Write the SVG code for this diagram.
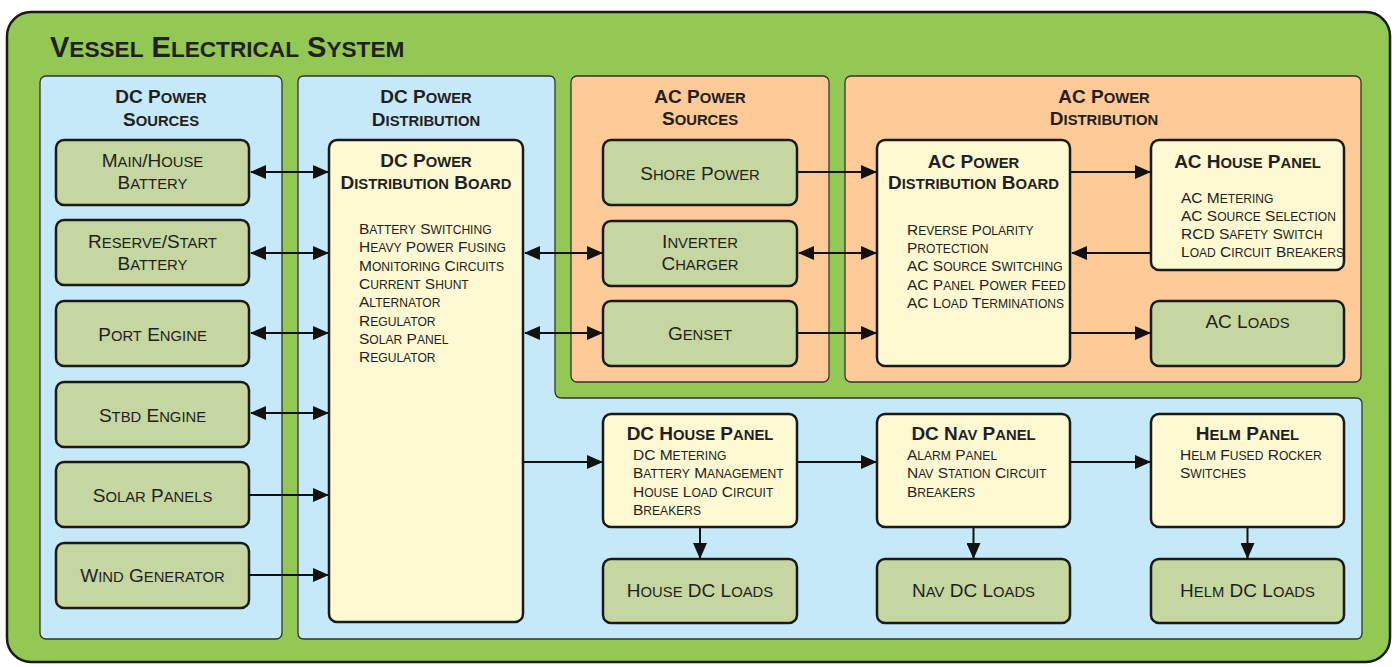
<svg xmlns="http://www.w3.org/2000/svg" width="1397" height="667" viewBox="0 0 1397 667">
<style>
.t{font-family:"Liberation Sans",Arial,sans-serif;fill:#231f20}
.ttl{font-size:29px;font-weight:bold}
.h{font-size:19px;font-weight:bold;text-anchor:middle}
.nt{font-size:19px;font-weight:bold;text-anchor:middle}
.n{font-size:19px;text-anchor:middle}
.l{font-size:15.5px}
.s{font-size:78%}
.pb{fill:#c5e9f9;stroke:#333;stroke-width:1.3}
.po{fill:#fdca98;stroke:#333;stroke-width:1.3}
.g{fill:#c5d6a0;stroke:#1a1a1a;stroke-width:2.5}
.y{fill:#fdf9d3;stroke:#1a1a1a;stroke-width:2.5}
.c line{stroke:#111;stroke-width:2}
</style>
<defs>
<marker id="ah" markerUnits="userSpaceOnUse" markerWidth="16" markerHeight="14" refX="15" refY="7" orient="auto-start-reverse">
<path d="M0,0 L16,7 L0,14 Z" fill="#111"/>
</marker>
</defs>
<rect x="7" y="12" width="1383" height="650" rx="24" fill="#92c853" stroke="#1a1a1a" stroke-width="2.5"/>
<text class="t ttl" x="50" y="57">V<tspan class="s">ESSEL</tspan> E<tspan class="s">LECTRICAL</tspan> S<tspan class="s">YSTEM</tspan></text>

<g id="panel-dc-sources">
<rect class="pb" x="40" y="76" width="242" height="563" rx="6"/>
<text class="t h" x="161" y="103">DC P<tspan class="s">OWER</tspan></text>
<text class="t h" x="161" y="126">S<tspan class="s">OURCES</tspan></text>
</g>
<g id="panel-dc-distribution">
<path class="pb" d="M304,76 H549 Q555,76 555,82 V391 Q555,398 562,398 H1356 Q1362,398 1362,404 V633 Q1362,639 1356,639 H304 Q298,639 298,633 V82 Q298,76 304,76 Z"/>
<text class="t h" x="426" y="103">DC P<tspan class="s">OWER</tspan></text>
<text class="t h" x="426" y="126">D<tspan class="s">ISTRIBUTION</tspan></text>
</g>
<g id="panel-ac-sources">
<rect class="po" x="571" y="76" width="258" height="306" rx="6"/>
<text class="t h" x="700" y="103">AC P<tspan class="s">OWER</tspan></text>
<text class="t h" x="700" y="125">S<tspan class="s">OURCES</tspan></text>
</g>
<g id="panel-ac-distribution">
<rect class="po" x="845" y="76" width="516" height="306" rx="6"/>
<text class="t h" x="1104" y="103">AC P<tspan class="s">OWER</tspan></text>
<text class="t h" x="1104" y="125">D<tspan class="s">ISTRIBUTION</tspan></text>
</g>

<g id="main-house-battery">
<rect class="g" x="56" y="140" width="193" height="65" rx="8"/>
<text class="t n" x="152.5" y="167">M<tspan class="s">AIN</tspan>/H<tspan class="s">OUSE</tspan></text>
<text class="t n" x="152.5" y="189">B<tspan class="s">ATTERY</tspan></text>
</g>
<g id="reserve-start-battery">
<rect class="g" x="56" y="220" width="193" height="65" rx="8"/>
<text class="t n" x="152.5" y="248">R<tspan class="s">ESERVE</tspan>/S<tspan class="s">TART</tspan></text>
<text class="t n" x="152.5" y="270">B<tspan class="s">ATTERY</tspan></text>
</g>
<g id="port-engine">
<rect class="g" x="56" y="301" width="193" height="65" rx="8"/>
<text class="t n" x="152.5" y="341">P<tspan class="s">ORT</tspan> E<tspan class="s">NGINE</tspan></text>
</g>
<g id="stbd-engine">
<rect class="g" x="56" y="382" width="193" height="65" rx="8"/>
<text class="t n" x="152.5" y="422">S<tspan class="s">TBD</tspan> E<tspan class="s">NGINE</tspan></text>
</g>
<g id="solar-panels">
<rect class="g" x="56" y="462" width="193" height="65" rx="8"/>
<text class="t n" x="152.5" y="502">S<tspan class="s">OLAR</tspan> P<tspan class="s">ANELS</tspan></text>
</g>
<g id="wind-generator">
<rect class="g" x="56" y="543" width="193" height="65" rx="8"/>
<text class="t n" x="152.5" y="582">W<tspan class="s">IND</tspan> G<tspan class="s">ENERATOR</tspan></text>
</g>

<g id="dc-distribution-board">
<rect class="y" x="329" y="140" width="194" height="482" rx="8"/>
<text class="t nt" x="426" y="167">DC P<tspan class="s">OWER</tspan></text>
<text class="t nt" x="426" y="189">D<tspan class="s">ISTRIBUTION</tspan> B<tspan class="s">OARD</tspan></text>
<text class="t l" x="359" y="234">B<tspan class="s">ATTERY</tspan> S<tspan class="s">WITCHING</tspan></text>
<text class="t l" x="359" y="252.3">H<tspan class="s">EAVY</tspan> P<tspan class="s">OWER</tspan> F<tspan class="s">USING</tspan></text>
<text class="t l" x="359" y="270.6">M<tspan class="s">ONITORING</tspan> C<tspan class="s">IRCUITS</tspan></text>
<text class="t l" x="359" y="289">C<tspan class="s">URRENT</tspan> S<tspan class="s">HUNT</tspan></text>
<text class="t l" x="359" y="307.3">A<tspan class="s">LTERNATOR</tspan></text>
<text class="t l" x="359" y="325.6">R<tspan class="s">EGULATOR</tspan></text>
<text class="t l" x="359" y="344">S<tspan class="s">OLAR</tspan> P<tspan class="s">ANEL</tspan></text>
<text class="t l" x="359" y="362.3">R<tspan class="s">EGULATOR</tspan></text>
</g>

<g id="shore-power">
<rect class="g" x="603" y="140" width="194" height="65" rx="8"/>
<text class="t n" x="700" y="180">S<tspan class="s">HORE</tspan> P<tspan class="s">OWER</tspan></text>
</g>
<g id="inverter-charger">
<rect class="g" x="603" y="221" width="194" height="65" rx="8"/>
<text class="t n" x="700" y="248">I<tspan class="s">NVERTER</tspan></text>
<text class="t n" x="700" y="270">C<tspan class="s">HARGER</tspan></text>
</g>
<g id="genset">
<rect class="g" x="603" y="301" width="194" height="65" rx="8"/>
<text class="t n" x="700" y="340">G<tspan class="s">ENSET</tspan></text>
</g>

<g id="ac-distribution-board">
<rect class="y" x="877" y="140" width="193" height="226" rx="8"/>
<text class="t nt" x="973.5" y="168">AC P<tspan class="s">OWER</tspan></text>
<text class="t nt" x="973.5" y="189">D<tspan class="s">ISTRIBUTION</tspan> B<tspan class="s">OARD</tspan></text>
<text class="t l" x="907" y="235">R<tspan class="s">EVERSE</tspan> P<tspan class="s">OLARITY</tspan></text>
<text class="t l" x="907" y="253.2">P<tspan class="s">ROTECTION</tspan></text>
<text class="t l" x="907" y="271.4">AC S<tspan class="s">OURCE</tspan> S<tspan class="s">WITCHING</tspan></text>
<text class="t l" x="907" y="289.6">AC P<tspan class="s">ANEL</tspan> P<tspan class="s">OWER</tspan> F<tspan class="s">EED</tspan></text>
<text class="t l" x="907" y="307.8">AC L<tspan class="s">OAD</tspan> T<tspan class="s">ERMINATIONS</tspan></text>
</g>
<g id="ac-house-panel">
<rect class="y" x="1151" y="140" width="193" height="130" rx="8"/>
<text class="t nt" x="1247.5" y="168">AC H<tspan class="s">OUSE</tspan> P<tspan class="s">ANEL</tspan></text>
<text class="t l" x="1181" y="203">AC M<tspan class="s">ETERING</tspan></text>
<text class="t l" x="1181" y="221">AC S<tspan class="s">OURCE</tspan> S<tspan class="s">ELECTION</tspan></text>
<text class="t l" x="1181" y="239">RCD S<tspan class="s">AFETY</tspan> S<tspan class="s">WITCH</tspan></text>
<text class="t l" x="1181" y="257">L<tspan class="s">OAD</tspan> C<tspan class="s">IRCUIT</tspan> B<tspan class="s">REAKERS</tspan></text>
</g>
<g id="ac-loads">
<rect class="g" x="1151" y="301" width="193" height="65" rx="8"/>
<text class="t n" x="1247.5" y="328">AC L<tspan class="s">OADS</tspan></text>
</g>

<g id="dc-house-panel">
<rect class="y" x="603" y="414" width="194" height="113" rx="8"/>
<text class="t nt" x="700" y="440">DC H<tspan class="s">OUSE</tspan> P<tspan class="s">ANEL</tspan></text>
<text class="t l" x="633" y="460">DC M<tspan class="s">ETERING</tspan></text>
<text class="t l" x="633" y="478.3">B<tspan class="s">ATTERY</tspan> M<tspan class="s">ANAGEMENT</tspan></text>
<text class="t l" x="633" y="496.6">H<tspan class="s">OUSE</tspan> L<tspan class="s">OAD</tspan> C<tspan class="s">IRCUIT</tspan></text>
<text class="t l" x="633" y="515">B<tspan class="s">REAKERS</tspan></text>
</g>
<g id="dc-nav-panel">
<rect class="y" x="877" y="414" width="193" height="113" rx="8"/>
<text class="t nt" x="973.5" y="440">DC N<tspan class="s">AV</tspan> P<tspan class="s">ANEL</tspan></text>
<text class="t l" x="907" y="460">A<tspan class="s">LARM</tspan> P<tspan class="s">ANEL</tspan></text>
<text class="t l" x="907" y="478.3">N<tspan class="s">AV</tspan> S<tspan class="s">TATION</tspan> C<tspan class="s">IRCUIT</tspan></text>
<text class="t l" x="907" y="496.6">B<tspan class="s">REAKERS</tspan></text>
</g>
<g id="helm-panel">
<rect class="y" x="1151" y="414" width="193" height="113" rx="8"/>
<text class="t nt" x="1247.5" y="440">H<tspan class="s">ELM</tspan> P<tspan class="s">ANEL</tspan></text>
<text class="t l" x="1180" y="460">H<tspan class="s">ELM</tspan> F<tspan class="s">USED</tspan> R<tspan class="s">OCKER</tspan></text>
<text class="t l" x="1180" y="478.3">S<tspan class="s">WITCHES</tspan></text>
</g>
<g id="house-dc-loads">
<rect class="g" x="603" y="559" width="194" height="64" rx="8"/>
<text class="t n" x="700" y="597">H<tspan class="s">OUSE</tspan> DC L<tspan class="s">OADS</tspan></text>
</g>
<g id="nav-dc-loads">
<rect class="g" x="877" y="559" width="193" height="64" rx="8"/>
<text class="t n" x="973.5" y="597">N<tspan class="s">AV</tspan> DC L<tspan class="s">OADS</tspan></text>
</g>
<g id="helm-dc-loads">
<rect class="g" x="1151" y="559" width="193" height="64" rx="8"/>
<text class="t n" x="1247.5" y="597">H<tspan class="s">ELM</tspan> DC L<tspan class="s">OADS</tspan></text>
</g>

<g id="connectors" class="c">
<line x1="251" y1="172" x2="328" y2="172" marker-start="url(#ah)" marker-end="url(#ah)"/>
<line x1="251" y1="253" x2="328" y2="253" marker-start="url(#ah)" marker-end="url(#ah)"/>
<line x1="251" y1="333" x2="328" y2="333" marker-start="url(#ah)" marker-end="url(#ah)"/>
<line x1="251" y1="413" x2="328" y2="413" marker-start="url(#ah)" marker-end="url(#ah)"/>
<line x1="250" y1="495" x2="328" y2="495" marker-end="url(#ah)"/>
<line x1="250" y1="575" x2="328" y2="575" marker-end="url(#ah)"/>
<line x1="525" y1="253" x2="602" y2="253" marker-start="url(#ah)" marker-end="url(#ah)"/>
<line x1="525" y1="333" x2="602" y2="333" marker-start="url(#ah)" marker-end="url(#ah)"/>
<line x1="798" y1="172" x2="876" y2="172" marker-end="url(#ah)"/>
<line x1="799" y1="253" x2="876" y2="253" marker-start="url(#ah)" marker-end="url(#ah)"/>
<line x1="798" y1="333" x2="876" y2="333" marker-end="url(#ah)"/>
<line x1="1071" y1="172" x2="1150" y2="172" marker-end="url(#ah)"/>
<line x1="1150" y1="253" x2="1072" y2="253" marker-end="url(#ah)"/>
<line x1="1071" y1="333" x2="1150" y2="333" marker-end="url(#ah)"/>
<line x1="524" y1="462" x2="602" y2="462" marker-end="url(#ah)"/>
<line x1="798" y1="462" x2="876" y2="462" marker-end="url(#ah)"/>
<line x1="1071" y1="462" x2="1150" y2="462" marker-end="url(#ah)"/>
<line x1="700" y1="528" x2="700" y2="558" marker-end="url(#ah)"/>
<line x1="973.5" y1="528" x2="973.5" y2="558" marker-end="url(#ah)"/>
<line x1="1247.5" y1="528" x2="1247.5" y2="558" marker-end="url(#ah)"/>
</g>
</svg>
